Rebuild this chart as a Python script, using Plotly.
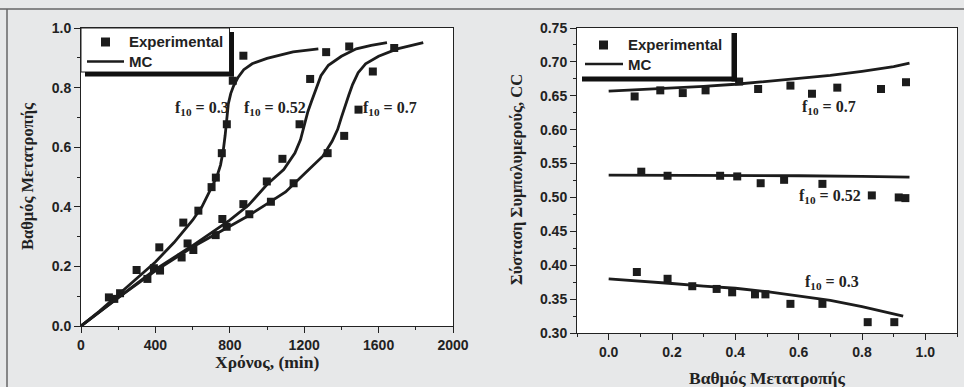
import plotly.graph_objects as go

W, H = 964, 387

# ---------------- Left panel data: conversion vs time ----------------
exp03_t = [150, 299, 421, 550, 631, 702, 725, 757, 784, 816, 873]
exp03_x = [0.096, 0.188, 0.264, 0.347, 0.387, 0.466, 0.498, 0.580, 0.677, 0.823, 0.907]
exp052_t = [179, 357, 392, 573, 760, 873, 999, 1083, 1175, 1232, 1318, 1442]
exp052_x = [0.091, 0.158, 0.194, 0.277, 0.359, 0.409, 0.485, 0.561, 0.677, 0.829, 0.919, 0.938]
exp07_t = [210, 425, 541, 604, 724, 783, 905, 1021, 1143, 1326, 1415, 1492, 1569, 1684]
exp07_x = [0.110, 0.186, 0.230, 0.255, 0.305, 0.333, 0.375, 0.417, 0.479, 0.580, 0.638, 0.726, 0.854, 0.933]

mc03_t = [0, 100, 200, 300, 400, 500, 600, 650, 700, 730, 750, 765, 775, 783, 792, 805, 820, 845, 875, 920, 1000, 1140, 1276]
mc03_x = [0, 0.05, 0.105, 0.16, 0.215, 0.28, 0.355, 0.40, 0.46, 0.50, 0.54, 0.59, 0.64, 0.70, 0.745, 0.78, 0.805, 0.835, 0.86, 0.88, 0.898, 0.92, 0.93]
mc052_t = [0, 200, 400, 600, 800, 900, 1000, 1090, 1150, 1180, 1200, 1220, 1240, 1260, 1290, 1330, 1400, 1480, 1560, 1645]
mc052_x = [0, 0.095, 0.19, 0.27, 0.355, 0.405, 0.475, 0.525, 0.58, 0.625, 0.67, 0.72, 0.755, 0.79, 0.84, 0.875, 0.905, 0.93, 0.942, 0.951]
mc07_t = [0, 200, 400, 600, 800, 900, 1000, 1100, 1200, 1300, 1350, 1380, 1400, 1420, 1440, 1460, 1490, 1530, 1600, 1700, 1840]
mc07_x = [0, 0.095, 0.185, 0.265, 0.335, 0.37, 0.41, 0.45, 0.51, 0.57, 0.62, 0.66, 0.70, 0.74, 0.775, 0.81, 0.85, 0.88, 0.905, 0.93, 0.951]

# ---------------- Right panel data: copolymer composition vs conversion ----------------
cexp07_x = [0.082, 0.163, 0.234, 0.306, 0.412, 0.472, 0.574, 0.642, 0.722, 0.860, 0.939]
cexp07_y = [0.649, 0.658, 0.654, 0.658, 0.671, 0.660, 0.665, 0.653, 0.662, 0.660, 0.670]
cexp052_x = [0.103, 0.186, 0.352, 0.406, 0.480, 0.554, 0.675, 0.831, 0.916, 0.937]
cexp052_y = [0.538, 0.532, 0.532, 0.531, 0.521, 0.526, 0.520, 0.503, 0.500, 0.499]
cexp03_x = [0.089, 0.186, 0.264, 0.341, 0.390, 0.462, 0.495, 0.574, 0.675, 0.818, 0.902]
cexp03_y = [0.390, 0.380, 0.369, 0.365, 0.360, 0.357, 0.357, 0.343, 0.343, 0.316, 0.316]

cmc07_x = [0, 0.1, 0.2, 0.3, 0.4, 0.5, 0.6, 0.7, 0.8, 0.9, 0.95]
cmc07_y = [0.657, 0.659, 0.661, 0.664, 0.667, 0.671, 0.675, 0.680, 0.686, 0.693, 0.698]
cmc052_x = [0, 0.2, 0.4, 0.6, 0.8, 0.95]
cmc052_y = [0.533, 0.533, 0.532, 0.532, 0.531, 0.530]
cmc03_x = [0, 0.1, 0.2, 0.3, 0.4, 0.5, 0.6, 0.7, 0.8, 0.9, 0.93]
cmc03_y = [0.380, 0.377, 0.373, 0.369, 0.366, 0.361, 0.355, 0.348, 0.339, 0.329, 0.325]

labels = ["f<sub>10</sub> = 0.3", "f<sub>10</sub> = 0.52", "f<sub>10</sub> = 0.7"]
legend_names = ["Experimental", "MC"]
axis_titles = ["Χρόνος, (min)", "Βαθμός Μετατροπής", "Βαθμός Μετατροπής", "Σύσταση Συμπολυμερούς, CC"]


def px(x):
    return x / W


def py(y):
    return 1 - y / H


INK = "#1c1c1c"
MK = dict(symbol="square", size=8, color=INK)
LN = dict(color=INK, width=2.8)

fig = go.Figure()

# left panel
for t, v in [(exp03_t, exp03_x), (exp052_t, exp052_x), (exp07_t, exp07_x)]:
    fig.add_trace(go.Scatter(x=t, y=v, mode="markers", marker=MK, name=legend_names[0],
                             showlegend=False, xaxis="x", yaxis="y"))
for t, v in [(mc03_t, mc03_x), (mc052_t, mc052_x), (mc07_t, mc07_x)]:
    fig.add_trace(go.Scatter(x=t, y=v, mode="lines", line=LN, name=legend_names[1],
                             showlegend=False, xaxis="x", yaxis="y"))

# right panel
for a, b in [(cexp07_x, cexp07_y), (cexp052_x, cexp052_y), (cexp03_x, cexp03_y)]:
    fig.add_trace(go.Scatter(x=a, y=b, mode="markers", marker=MK, name=legend_names[0],
                             showlegend=False, xaxis="x2", yaxis="y2"))
for a, b in [(cmc07_x, cmc07_y), (cmc052_x, cmc052_y), (cmc03_x, cmc03_y)]:
    fig.add_trace(go.Scatter(x=a, y=b, mode="lines", line=LN, name=legend_names[1],
                             showlegend=False, xaxis="x2", yaxis="y2"))

tickfont = dict(family="Liberation Sans, Arial", size=14, color="#222", weight="bold")
xtitlefont = dict(family="Liberation Serif, Times New Roman", size=17.5, color="#222", weight="bold")
ytitlefont = dict(family="Liberation Serif, Times New Roman", size=16.5, color="#222", weight="bold")
axcommon = dict(showgrid=False, zeroline=False, showline=True, linecolor="#222", linewidth=1,
                mirror=True, ticks="outside", ticklen=6, tickwidth=1, tickcolor="#222",
                tickfont=tickfont, automargin=False)
minor_common = dict(ticklen=3, ticks="outside", tickcolor="#222")

fig.update_layout(
    width=W, height=H,
    margin=dict(l=0, r=0, t=0, b=0, autoexpand=False),
    paper_bgcolor="#e7e8e9",
    plot_bgcolor="white",
    showlegend=False,
    xaxis=dict(domain=[px(81), px(453)], range=[0, 2000], dtick=400, anchor="y",
               minor=dict(dtick=200, **minor_common), **axcommon),
    yaxis=dict(domain=[py(326), py(28)], range=[0, 1.0], dtick=0.2, tickformat=".1f", anchor="x",
               minor=dict(dtick=0.1, **minor_common), **axcommon),
    xaxis2=dict(domain=[px(577), px(957)], range=[-0.1, 1.1], dtick=0.2, tick0=0, tickformat=".1f",
                anchor="y2", minor=dict(dtick=0.1, **minor_common), **axcommon),
    yaxis2=dict(domain=[py(333), py(28)], range=[0.30, 0.75], dtick=0.05, tickformat=".2f",
                anchor="x2", minor=dict(dtick=0.025, **minor_common), **axcommon),
)

shapes = []
# outer frame lines
shapes.append(dict(type="line", xref="paper", yref="paper", x0=0, x1=1, y0=py(9), y1=py(9),
                   line=dict(color="#666", width=1.5)))
shapes.append(dict(type="line", xref="paper", yref="paper", x0=px(7), x1=px(7), y0=py(9), y1=0,
                   line=dict(color="#666", width=1.5)))

# left legend box
shapes.append(dict(type="rect", xref="paper", yref="paper", x0=px(81), x1=px(229.5),
                   y0=py(72), y1=py(28), fillcolor="white", line=dict(color="#222", width=1),
                   layer="above"))
# legend shadows
for (x0, x1, y0, y1) in [(85, 234, 72, 76.5), (229.5, 234, 32, 76.5),
                          (582, 737, 76.5, 81.5), (731.5, 737, 33, 81.5)]:
    shapes.append(dict(type="rect", xref="paper", yref="paper", x0=px(x0), x1=px(x1),
                       y0=py(y1), y1=py(y0), fillcolor="#111", line=dict(width=0), layer="above"))

# legend symbols (marker square and line sample)
for (mx, my, lx0, lx1, ly) in [(105.5, 42, 87, 124, 61.5), (603.5, 45, 585, 623, 64)]:
    shapes.append(dict(type="rect", xref="paper", yref="paper", x0=px(mx - 4.5), x1=px(mx + 4.5),
                       y0=py(my + 4.5), y1=py(my - 4.5), fillcolor=INK, line=dict(width=0),
                       layer="above"))
    shapes.append(dict(type="line", xref="paper", yref="paper", x0=px(lx0), x1=px(lx1),
                       y0=py(ly), y1=py(ly), line=dict(color=INK, width=2.6), layer="above"))
fig.update_layout(shapes=shapes)

lfont = dict(family="Liberation Sans, Arial", size=15, color="#222", weight="bold")
afont = dict(family="Liberation Serif, Times New Roman", size=16, color="#222", weight="bold")
ann = []
for (tx, ty1, ty2) in [(127, 42, 61.5), (626, 45, 64)]:
    ann.append(dict(x=px(tx), y=py(ty1), xref="paper", yref="paper", text=legend_names[0],
                    xanchor="left", yanchor="middle", showarrow=False, font=lfont))
    ann.append(dict(x=px(tx), y=py(ty2), xref="paper", yref="paper", text=legend_names[1],
                    xanchor="left", yanchor="middle", showarrow=False, font=lfont))
for txt, xv in zip(labels, [650, 1045, 1660]):
    ann.append(dict(x=xv, y=0.73, xref="x", yref="y", text=txt, showarrow=False, font=afont))
for txt, xv, yv in zip(labels, [0.704, 0.698, 0.695], [0.374, 0.501, 0.632]):
    ann.append(dict(x=xv, y=yv, xref="x2", yref="y2", text=txt, showarrow=False, font=afont))

# axis titles
for txt, (cx, cy), ang, f in zip(axis_titles,
                                 [(267, 362), (27, 176), (767, 378), (517, 180)],
                                 [0, -90, 0, -90],
                                 [xtitlefont, ytitlefont, xtitlefont, ytitlefont]):
    ann.append(dict(x=px(cx), y=py(cy), xref="paper", yref="paper", text=txt, textangle=ang,
                    xanchor="center", yanchor="middle", showarrow=False, font=f))
fig.update_layout(annotations=ann)

fig.write_html("out.html")
